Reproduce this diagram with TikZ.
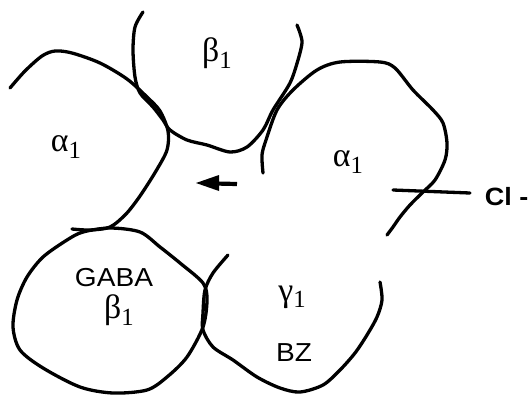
\documentclass[tikz,border=0pt]{standalone}
\usepackage{fontspec}
\setmainfont{Liberation Sans}[FakeStretch=1.08]
\newfontfamily\greekfont[Scale=1.3]{Liberation Serif}
\newcommand{\lowidx}[1]{\raisebox{-0.2em}{\fontsize{19pt}{19pt}\selectfont #1}}

\begin{document}
\begin{tikzpicture}[scale=0.3515, line width=3.3pt, line join=round, line cap=round,
  lbl/.style={inner sep=0pt, font=\fontsize{26pt}{30pt}\selectfont}]
\useasboundingbox (0,0) rectangle (53.1,-39.6);
\draw [black] plot [smooth] coordinates {(1.0,-8.8) (2.5,-7.1) (4.2,-5.6) (5.5,-5.1) (7.2,-5.3) (10.0,-6.3) (12.7,-7.9) (14.7,-9.7) (16.0,-11.1) (16.8,-13.1) (16.7,-15.0) (15.6,-17.1) (14.0,-19.6) (12.6,-21.4) (11.0,-22.7) (9.0,-23.0) (7.2,-22.9)};
\draw [black] plot [smooth] coordinates {(14.3,-1.2) (13.5,-2.7) (13.3,-5.0) (13.5,-7.7) (14.0,-9.3) (15.3,-10.7) (16.3,-12.0) (17.0,-13.0) (18.7,-14.0) (20.7,-14.5) (23.0,-15.2) (24.7,-14.7) (26.3,-13.0) (27.3,-11.0) (29.0,-8.3) (29.8,-6.0) (30.2,-4.3) (30.0,-3.3) (29.7,-2.5)};
\draw [black] plot [smooth] coordinates {(26.3,-17.3) (26.2,-15.5) (26.6,-14.0) (27.7,-11.0) (29.3,-9.0) (31.7,-7.0) (34.0,-6.2) (38.0,-6.2) (39.5,-6.8) (41.3,-9.0) (43.3,-11.0) (44.3,-12.3) (44.7,-14.3) (44.5,-16.0) (43.5,-18.0) (42.3,-19.2) (41.0,-20.5) (40.0,-21.7) (39.3,-22.7) (38.7,-23.5)};
\draw [black] plot [smooth cycle] coordinates {(8.3,-23.2) (11.0,-22.8) (14.0,-23.2) (16.0,-24.7) (18.0,-26.3) (20.3,-28.3) (20.7,-30.0) (20.3,-32.7) (18.7,-35.7) (16.7,-37.7) (14.7,-39.0) (11.3,-39.3) (8.0,-38.7) (4.3,-36.8) (2.0,-35.0) (1.3,-32.7) (1.7,-30.0) (2.7,-27.7) (4.3,-25.7) (6.7,-24.0)};
\draw [black] plot [smooth] coordinates {(22.8,-25.5) (21.3,-27.3) (20.5,-29.0) (20.3,-31.3) (20.3,-33.0) (21.3,-34.7) (23.3,-36.0) (25.7,-37.7) (28.0,-38.8) (30.0,-39.2) (32.3,-38.5) (34.0,-37.0) (35.5,-35.3) (36.7,-33.5) (37.7,-31.7) (38.2,-30.0) (38.0,-28.2)};
\draw [black] (39.3,-19.0) -- (47.0,-19.3);
\draw [black, line width=4.2pt, line cap=butt] (23.7,-18.4) -- (21.5,-18.35);
\fill [black] (19.6,-18.3) -- (21.9,-17.5) -- (21.9,-19.1) -- cycle;
\node [lbl] (b1) at (21.7,-5.3) {\greekfont β\lowidx{1}};
\node [lbl] (a1l) at (6.6,-14.7) {\greekfont α\lowidx{1}};
\node [lbl] (a1r) at (34.8,-16.2) {\greekfont α\lowidx{1}};
\node [lbl] (gaba) at (11.4,-27.8) {GABA};
\node [lbl] (gb1) at (11.9,-31.0) {\greekfont β\lowidx{1}};
\node [lbl] (g1) at (29.2,-29.7) {\greekfont γ\lowidx{1}};
\node [lbl] (bz) at (29.4,-35.3) {BZ};
\node [lbl, anchor=east, font=\fontsize{25pt}{30pt}\selectfont\bfseries] (cl) at (53.0,-19.7) {Cl -};
\end{tikzpicture}
\end{document}
